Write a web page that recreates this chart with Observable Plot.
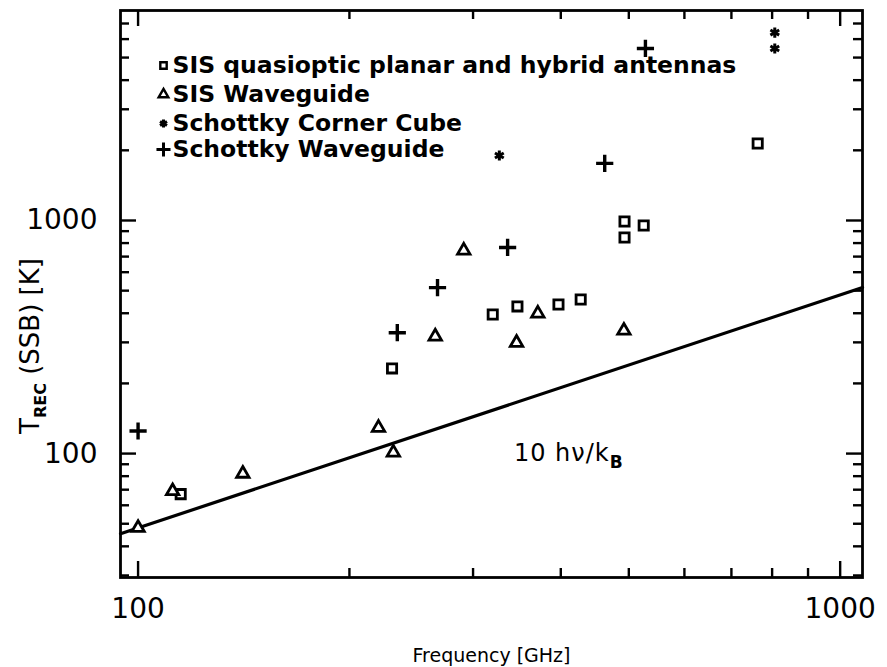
<!DOCTYPE html>
<html><head><meta charset="utf-8">
<script src="https://cdn.jsdelivr.net/npm/d3@7"></script>
<script src="https://cdn.jsdelivr.net/npm/@observablehq/plot@0.6"></script>
<style>
body{margin:0;background:#fff;}
#chart{width:887px;height:667px;}
svg{font-family:"DejaVu Sans",sans-serif;}
</style>
</head><body><div id="chart"></div>
<script>
// ---- data ----
const sisQuasiFreq = [115, 230, 320, 347, 397, 427, 493, 493, 525, 763];
const sisQuasiTrec = [67, 232, 395, 428, 436, 458, 990, 845, 951, 2140];

const sisWgFreq = [100, 112, 141, 220, 231, 265, 291, 346, 371, 492];
const sisWgTrec = [48, 69, 82, 129, 101, 318, 743, 299, 399, 337];

const cornerCubeFreq = [327, 807, 807];
const cornerCubeTrec = [1900, 6400, 5470];

const schottkyWgFreq = [100, 234, 267, 336, 462, 528];
const schottkyWgTrec = [125, 330, 515, 766, 1758, 5470];

// 10 h nu / k_B reference line (end points)
const lineFreq = [94.4, 1076];
const lineTrec = [45.3, 516];

const legendLabels = [
  "SIS quasioptic planar and hybrid antennas",
  "SIS Waveguide",
  "Schottky Corner Cube",
  "Schottky Waveguide"
];
const legendSymbols = ["square", "triangle", "asterisk", "plus"];

const xMajor = [100, 1000];
const xMinor = [200, 300, 400, 500, 600, 700, 800, 900];
const yMajor = [100, 1000];
const yMinor = [30, 40, 50, 60, 70, 80, 90, 200, 300, 400, 500, 600, 700, 800, 900, 2000, 3000, 4000, 5000, 6000, 7000];
const xTickLabels = [100, 1000];
const yTickLabels = [100, 1000];

const annotFreq = [343];
const annotTrec = [100];

const zip = (f, t) => f.map((v, i) => ({f: v, t: t[i]}));

// ---- layout ----
const W = 887, H = 667;
const mL = 120, mR = 25, mT = 10, mB = 90;
const pW = W - mL - mR, pH = H - mT - mB;
const majLen = 16, minLen = 9;
const tw = 2.4;

const marks = [
  Plot.frame({stroke: "black", strokeWidth: 2.8}),
  // bottom ticks
  Plot.tickX(xMajor, {x: d => d, insetTop: pH - majLen, stroke: "black", strokeWidth: tw}),
  Plot.tickX(xMinor, {x: d => d, insetTop: pH - minLen, stroke: "black", strokeWidth: tw}),
  // top ticks
  Plot.tickX(xMajor, {x: d => d, insetBottom: pH - majLen, stroke: "black", strokeWidth: tw}),
  Plot.tickX(xMinor, {x: d => d, insetBottom: pH - minLen, stroke: "black", strokeWidth: tw}),
  // left ticks
  Plot.tickY(yMajor, {y: d => d, insetRight: pW - majLen, stroke: "black", strokeWidth: tw}),
  Plot.tickY(yMinor, {y: d => d, insetRight: pW - minLen, stroke: "black", strokeWidth: tw}),
  // right ticks
  Plot.tickY(yMajor, {y: d => d, insetLeft: pW - majLen, stroke: "black", strokeWidth: tw}),
  Plot.tickY(yMinor, {y: d => d, insetLeft: pW - minLen, stroke: "black", strokeWidth: tw}),
  // tick labels
  Plot.text(xTickLabels, {x: d => d, frameAnchor: "bottom", lineAnchor: "middle", dy: 32, text: d => String(d), fontSize: 28, fill: "black"}),
  Plot.text(yTickLabels, {y: d => d, frameAnchor: "left", lineAnchor: "middle", dx: -23, textAnchor: "end", text: d => String(d), fontSize: 28, fill: "black"}),
  // axis titles
  Plot.text(["Frequency [GHz]"], {frameAnchor: "bottom", lineAnchor: "middle", dy: 78, text: d => d, fontSize: 19, fill: "black"}),
  Plot.text(["T_REC (SSB) [K]"], {frameAnchor: "left", textAnchor: "middle", lineAnchor: "middle", dx: -90, dy: 52, rotate: -90, text: d => d, fontSize: 26, fill: "black"}),
  // reference line
  Plot.line(zip(lineFreq, lineTrec), {x: "f", y: "t", stroke: "black", strokeWidth: 3.2}),
  Plot.text(zip(annotFreq, annotTrec), {x: "f", y: "t", text: () => "10 hν/kB", textAnchor: "start", lineAnchor: "middle", fontSize: 24, fill: "black"}),
  // data
  Plot.dot(zip(sisQuasiFreq, sisQuasiTrec), {x: "f", y: "t", symbol: "square", r: 5.2, stroke: "black", strokeWidth: 2.8, fill: "white"}),
  Plot.dot(zip(sisWgFreq, sisWgTrec), {x: "f", y: "t", symbol: "triangle", r: 4.6, stroke: "black", strokeWidth: 2.8, fill: "white"}),
  Plot.dot(zip(cornerCubeFreq, cornerCubeTrec), {x: "f", y: "t", symbol: "asterisk", r: 4.8, stroke: "black", strokeWidth: 3, fill: "none"}),
  Plot.dot(zip(schottkyWgFreq, schottkyWgTrec), {x: "f", y: "t", symbol: "plus", r: 5.6, stroke: "black", strokeWidth: 3.4, fill: "none"})
];

// legend rows inside the frame
const rowY = [55, 84, 113, 139];
legendLabels.forEach((lab, i) => {
  const sym = legendSymbols[i];
  const filled = sym === "square" || sym === "triangle";
  marks.push(Plot.dot([lab], {frameAnchor: "top-left", dx: 43, dy: rowY[i], symbol: sym,
    r: sym === "plus" ? 4.6 : sym === "asterisk" ? 3.8 : 3.6,
    stroke: "black", strokeWidth: sym === "plus" || sym === "asterisk" ? 3 : 2.4, fill: filled ? "white" : "none"}));
  marks.push(Plot.text([lab], {frameAnchor: "top-left", dx: 52, dy: rowY[i], text: d => d, textAnchor: "start",
    lineAnchor: "middle", fontSize: 23.5, fontWeight: "bold", fill: "black"}));
});

const chart = Plot.plot({
  width: W, height: H,
  marginLeft: mL, marginRight: mR, marginTop: mT, marginBottom: mB,
  x: {type: "log", domain: [94.4, 1076], axis: null},
  y: {type: "log", domain: [29.4, 7960], axis: null},
  style: {background: "white", color: "black", fontFamily: "DejaVu Sans, sans-serif"},
  marks
});
document.getElementById("chart").appendChild(chart);

// subscripts for the y title and the annotation
const svg = d3.select(chart);
svg.selectAll("text").each(function() {
  const el = d3.select(this);
  const s = this.textContent;
  if (s === "T_REC (SSB) [K]") {
    el.text("");
    el.append("tspan").text("T");
    el.append("tspan").attr("dy", 7).attr("font-size", 16).attr("font-weight", "bold").text("REC");
    el.append("tspan").attr("dy", -7).text(" (SSB) [K]");
  } else if (s === "10 hν/kB") {
    el.text("").attr("letter-spacing", 1);
    el.append("tspan").text("10 hν/k");
    el.append("tspan").attr("dy", 7).attr("font-size", 17).attr("font-weight", "bold").text("B");
  }
});
</script>
</body></html>
